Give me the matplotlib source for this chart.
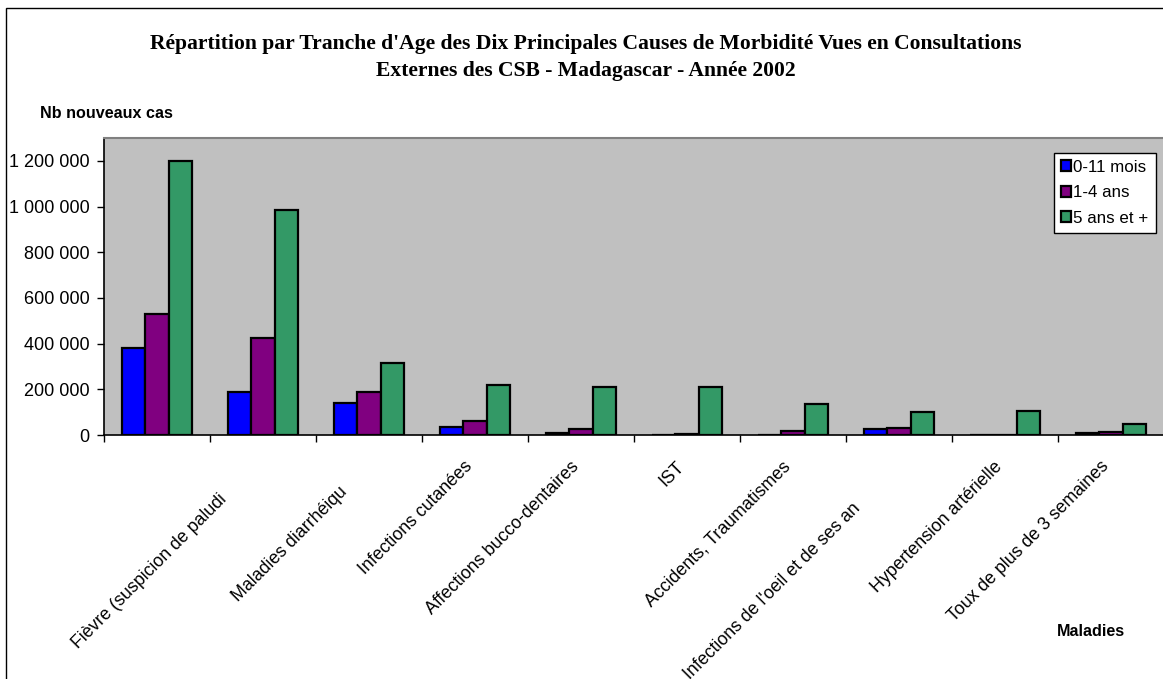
import matplotlib
matplotlib.use("Agg")
import matplotlib.pyplot as plt
import matplotlib.transforms as mtransforms
from matplotlib.patches import Patch, Rectangle
from matplotlib.ticker import FuncFormatter, FixedLocator
import numpy as np

# ---------------- data ----------------
tick_labels = [
    "",
    "Fièvre (suspicion de paludi",
    "Maladies diarrhéiqu",
    "Infections cutanées",
    "Affections bucco-dentaires",
    "IST",
    "Accidents, Traumatismes",
    "Infections de l'oeil et de ses an",
    "Hypertension artérielle",
    "Toux de plus de 3 semaines",
]
series_names = ["0-11 mois", "1-4 ans", "5 ans et +"]
v_0_11 = [381000, 188000, 140000, 36000, 10000, 1000, 2000, 25000, 500, 7000]
v_1_4 = [530000, 425000, 188000, 63000, 26000, 3000, 17000, 29000, 800, 11000]
v_5plus = [1200000, 985000, 315000, 219000, 210000, 210000, 136000, 99000, 106000, 48000]
y_ticks = [0, 200000, 400000, 600000, 800000, 1000000, 1200000]

# ---------------- layout ----------------
W, H = 1163, 679
DPI = 100
colors = ["#0000FF", "#800080", "#339966"]
# label end shifts (px) for truncated labels
label_shift = [(0, 0), (-34, 33), (-19, 25), (0, 0), (0, 0), (0, 0), (0, 0), (-36, 42), (0, 0), (0, 0)]

plt.rcParams["font.family"] = ["Liberation Sans", "DejaVu Sans"]
fig = plt.figure(figsize=(W / DPI, H / DPI), dpi=DPI)
fig.patch.set_facecolor("white")

ax_l, ax_r = 104 / W, 1164 / W
ax_b, ax_t = 1 - 435 / H, 1 - 138 / H
ax = fig.add_axes([ax_l, ax_b, ax_r - ax_l, ax_t - ax_b])
ax.set_facecolor("#C0C0C0")

n = len(v_5plus)
x = np.arange(n)
bw = 0.222
for k, vals in enumerate([v_0_11, v_1_4, v_5plus]):
    ax.bar(x + (k - 1) * bw, vals, width=bw, color=colors[k], edgecolor="black",
           linewidth=1.6, zorder=3)

ax.set_xlim(-0.5, n - 0.5)
ax.set_ylim(0, 1300000)
ax.yaxis.set_major_locator(FixedLocator(y_ticks))
ax.yaxis.set_major_formatter(FuncFormatter(lambda v, p: f"{int(v):,}".replace(",", " ")))
ax.tick_params(axis="y", direction="out", length=5, width=1, labelsize=13, pad=5.5, colors="black")
ax.set_xticks(np.arange(n + 1) - 0.5)
ax.set_xticklabels([])
ax.tick_params(axis="x", direction="out", length=5, width=1)

for s in ["left", "bottom"]:
    ax.spines[s].set_color("black")
    ax.spines[s].set_linewidth(1.2)
ax.spines["top"].set_color("#808080")
ax.spines["top"].set_linewidth(1.5)
ax.spines["right"].set_visible(False)

# category labels
base = mtransforms.blended_transform_factory(ax.transData, fig.transFigure)
for i, lab in enumerate(tick_labels):
    if not lab:
        continue
    dx, dy = label_shift[i]
    tr = base + mtransforms.ScaledTranslation((dx - 11) / DPI, -dy / DPI, fig.dpi_scale_trans)
    ax.text(i, 1 - 458 / H, lab, transform=tr, rotation=45, rotation_mode="anchor",
            ha="right", va="top", fontsize=12.8, color="black", clip_on=False)

# legend
handles = [Patch(facecolor=c, edgecolor="black", linewidth=1.6) for c in colors]
leg = fig.legend(handles, series_names, loc="upper left",
                 bbox_to_anchor=(1054 / W, 1 - 153 / H), frameon=True, fancybox=False,
                 edgecolor="black", framealpha=1, fontsize=12.2, handlelength=0.6,
                 handleheight=0.6, handletextpad=0.15, borderpad=0.4, labelspacing=0.62,
                 borderaxespad=0)
leg.get_frame().set_linewidth(1.0)

# titles
serif = ["Liberation Serif", "DejaVu Serif"]
fig.text(586 / W, 1 - 44 / H,
         "Répartition par Tranche d'Age des Dix Principales Causes de Morbidité Vues en Consultations",
         ha="center", va="center", fontsize=15.6, fontweight="bold", family=serif)
fig.text(586 / W, 1 - 71 / H, "Externes des CSB - Madagascar - Année 2002",
         ha="center", va="center", fontsize=15.6, fontweight="bold", family=serif)
fig.text(40 / W, 1 - 113 / H, "Nb nouveaux cas", ha="left", va="center", fontsize=11.6, fontweight="bold")
fig.text(1091 / W, 1 - 632 / H, "Maladies", ha="center", va="center", fontsize=11.6, fontweight="bold")

# chart border
fig.patches.append(Rectangle((6 / W, -0.1), 1.2, 1 - 8 / H + 0.1, transform=fig.transFigure,
                             fill=False, edgecolor="black", linewidth=1.0))

fig.savefig("out.png", dpi=DPI)
